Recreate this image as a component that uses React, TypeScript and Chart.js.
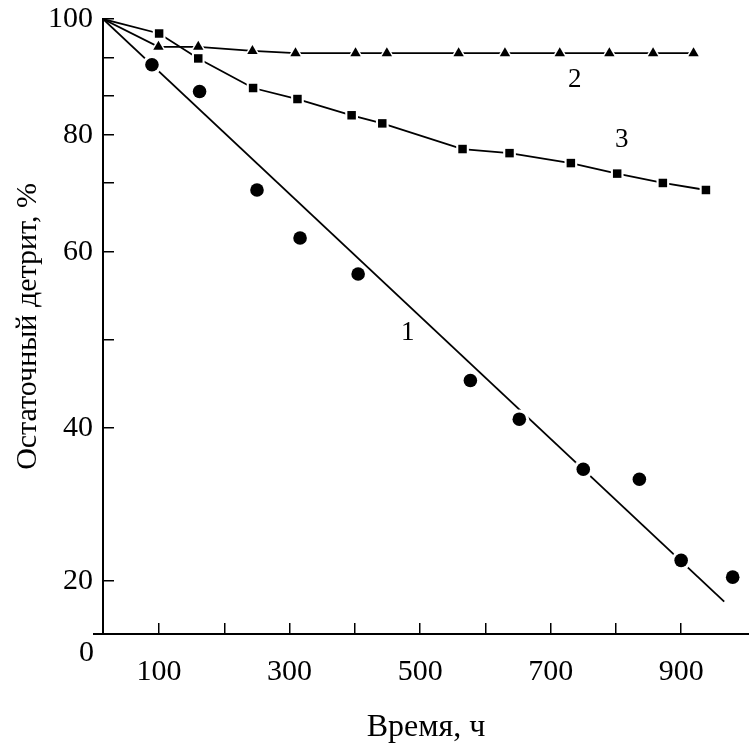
import React, { useEffect, useRef } from "react";
import { Chart, LinearScale, registerables } from "chart.js";

// ---- data ----
const START_T = 14;
const START_V = 100;

// Series 1: circles + fitted straight line
const T1 = [89, 162, 250, 316, 405, 577, 652, 750, 836, 900, 979];
const V1 = [92.1, 87.5, 70.6, 62.4, 57.5, 45.4, 41.0, 34.6, 33.3, 22.7, 20.5];
const FIT1_T = [14, 966];
const FIT1_V = [100, 12.2];

// Series 2: triangles
const T2 = [99, 160, 243, 309, 401, 449, 559, 630, 714, 790, 857, 919];
const V2 = [95.2, 95.2, 94.5, 94.1, 94.1, 94.1, 94.1, 94.1, 94.1, 94.1, 94.1, 94.1];

// Series 3: squares
const T3 = [100, 160, 244, 312, 395, 442, 565, 637, 731, 802, 872, 938];
const V3 = [97.5, 93.2, 88.1, 86.2, 83.4, 82.0, 77.6, 76.9, 75.2, 73.4, 71.8, 70.6];

// Axis ticks
const X_TICKS = [100, 200, 300, 400, 500, 600, 700, 800, 900];
const X_LABELS = [100, 300, 500, 700, 900];
const Y_TICKS = [20, 40, 50, 60, 71.8, 80, 86.7, 93.4, 100];
const Y_LABELS = [20, 40, 60, 80, 100];

// Curve labels (text, time, value)
const CURVE_LABEL_TEXT = ["1", "2", "3"];
const CURVE_LABEL_T = [481, 737, 809];
const CURVE_LABEL_V = [50.8, 89.5, 79.1];

// Non-uniform vertical axis of the original figure (value -> fraction of axis height)
const Y_MAP_VALUES = [0, 20, 40, 60, 80, 100];
const Y_MAP_FRACTIONS = [0, 0.0862, 0.335, 0.6211, 0.8114, 1];

function interp(x: number, xs: number[], ys: number[]) {
  const n = xs.length;
  let i = 1;
  while (i < n - 1 && x > xs[i]) i++;
  const x0 = xs[i - 1], x1 = xs[i], y0 = ys[i - 1], y1 = ys[i];
  return y0 + ((x - x0) * (y1 - y0)) / (x1 - x0);
}

class PiecewiseScale extends LinearScale {
  static id = "piecewise";
  static defaults = LinearScale.defaults;
  getPixelForValue(value: any) {
    if (value === null || value === undefined || isNaN(value)) return NaN;
    return (this as any).getPixelForDecimal(interp(+value, Y_MAP_VALUES, Y_MAP_FRACTIONS));
  }
  getValueForPixel(pixel: number) {
    const d = (this as any).getDecimalForPixel(pixel);
    return interp(d, Y_MAP_FRACTIONS, Y_MAP_VALUES);
  }
}

Chart.register(...registerables, PiecewiseScale as any);

const FONT = "'Liberation Serif', 'Times New Roman', serif";

const zip = (ts: number[], vs: number[]) => ts.map((t, i) => ({ x: t, y: vs[i] }));

const annotPlugin = {
  id: "annot",
  afterDatasetsDraw(chart: any) {
    const { ctx, chartArea, scales } = chart;
    const x = scales.x, y = scales.y;
    ctx.save();
    ctx.fillStyle = "#000";
    ctx.textAlign = "center";
    ctx.textBaseline = "middle";
    ctx.font = `27px ${FONT}`;
    CURVE_LABEL_TEXT.forEach((txt, i) => {
      ctx.fillText(txt, x.getPixelForValue(CURVE_LABEL_T[i]), y.getPixelForValue(CURVE_LABEL_V[i]));
    });
    // origin label
    ctx.font = `30px ${FONT}`;
    ctx.textAlign = "right";
    ctx.fillText("0", chartArea.left - 9, y.getPixelForValue(0) + 19);
    // x axis line extends a little left of the y axis
    ctx.strokeStyle = "#000";
    ctx.lineWidth = 2;
    ctx.beginPath();
    ctx.moveTo(chartArea.left - 10, chartArea.bottom);
    ctx.lineTo(chartArea.left, chartArea.bottom);
    ctx.stroke();
    ctx.restore();
  },
};

function series(
  ts: number[],
  vs: number[],
  style: string,
  r: number,
  lineTs: number[] | null,
  lineVs: number[] | null
) {
  const lineData = lineTs && lineVs ? zip(lineTs, lineVs) : [{ x: START_T, y: START_V }, ...zip(ts, vs)];
  return [
    {
      data: lineData,
      showLine: true,
      borderColor: "#000",
      borderWidth: 1.8,
      pointRadius: 0,
      order: 10,
    },
    {
      data: zip(ts, vs),
      showLine: false,
      pointStyle: style,
      pointRadius: r + 3,
      pointBackgroundColor: "#fff",
      pointBorderColor: "#fff",
      pointBorderWidth: 0,
      order: 5,
    },
    {
      data: zip(ts, vs),
      showLine: false,
      pointStyle: style,
      pointRadius: r,
      pointBackgroundColor: "#000",
      pointBorderColor: "#000",
      pointBorderWidth: 0,
      order: 1,
    },
  ];
}

const zeroPad = (s: any) => {
  s.paddingTop = 0;
  s.paddingBottom = 0;
  s.paddingLeft = 0;
  s.paddingRight = 0;
};

export default function App() {
  const ref = useRef<HTMLCanvasElement>(null);
  useEffect(() => {
    if (!ref.current) return;
    const chart = new Chart(ref.current, {
      type: "scatter",
      data: {
        datasets: [
          ...series(T1, V1, "circle", 6.8, FIT1_T, FIT1_V),
          ...series(T2, V2, "triangle", 6, null, null),
          ...series(T3, V3, "rect", 6, null, null),
        ] as any,
      },
      options: {
        animation: false,
        responsive: false,
        devicePixelRatio: 1,
        layout: { autoPadding: false, padding: { top: 19, right: 0, bottom: 0, left: 0 } },
        plugins: { legend: { display: false }, tooltip: { enabled: false } },
        scales: {
          x: {
            type: "linear",
            min: 14,
            max: 1004,
            afterBuildTicks: (s: any) => {
              s.ticks = X_TICKS.map((v) => ({ value: v }));
            },
            afterFit: (s: any) => {
              s.height = 113;
              zeroPad(s);
            },
            ticks: {
              callback: (v: any) => (X_LABELS.includes(v) ? String(v) : ""),
              font: { family: FONT, size: 30 },
              color: "#000",
              padding: 31,
              maxRotation: 0,
              autoSkip: false,
            },
            grid: { drawOnChartArea: false, tickLength: -11, color: "#000", lineWidth: 1.5 },
            border: { color: "#000", width: 2 },
            title: {
              display: true,
              text: "Время, ч",
              font: { family: FONT, size: 32 },
              color: "#000",
              padding: { top: 0, bottom: 0 },
            },
          },
          y: {
            type: "piecewise" as any,
            min: 0,
            max: 100,
            afterBuildTicks: (s: any) => {
              s.ticks = Y_TICKS.map((v) => ({ value: v }));
            },
            afterFit: (s: any) => {
              s.width = 103;
              zeroPad(s);
            },
            ticks: {
              callback: (v: any) => (Y_LABELS.includes(v) ? String(v) : ""),
              font: { family: FONT, size: 30 },
              color: "#000",
              padding: 21,
              autoSkip: false,
            },
            grid: { drawOnChartArea: false, tickLength: -11, color: "#000", lineWidth: 1.5 },
            border: { color: "#000", width: 2 },
            title: {
              display: true,
              text: "Остаточный детрит, %",
              font: { family: FONT, size: 30 },
              color: "#000",
              padding: { top: 10, bottom: 0 },
            },
          },
        } as any,
      },
      plugins: [annotPlugin],
    });
    return () => chart.destroy();
  }, []);
  return (
    <div style={{ position: "fixed", left: 0, top: 0, width: 749, height: 747, background: "#fff" }}>
      <canvas ref={ref} width={749} height={747} />
    </div>
  );
}
